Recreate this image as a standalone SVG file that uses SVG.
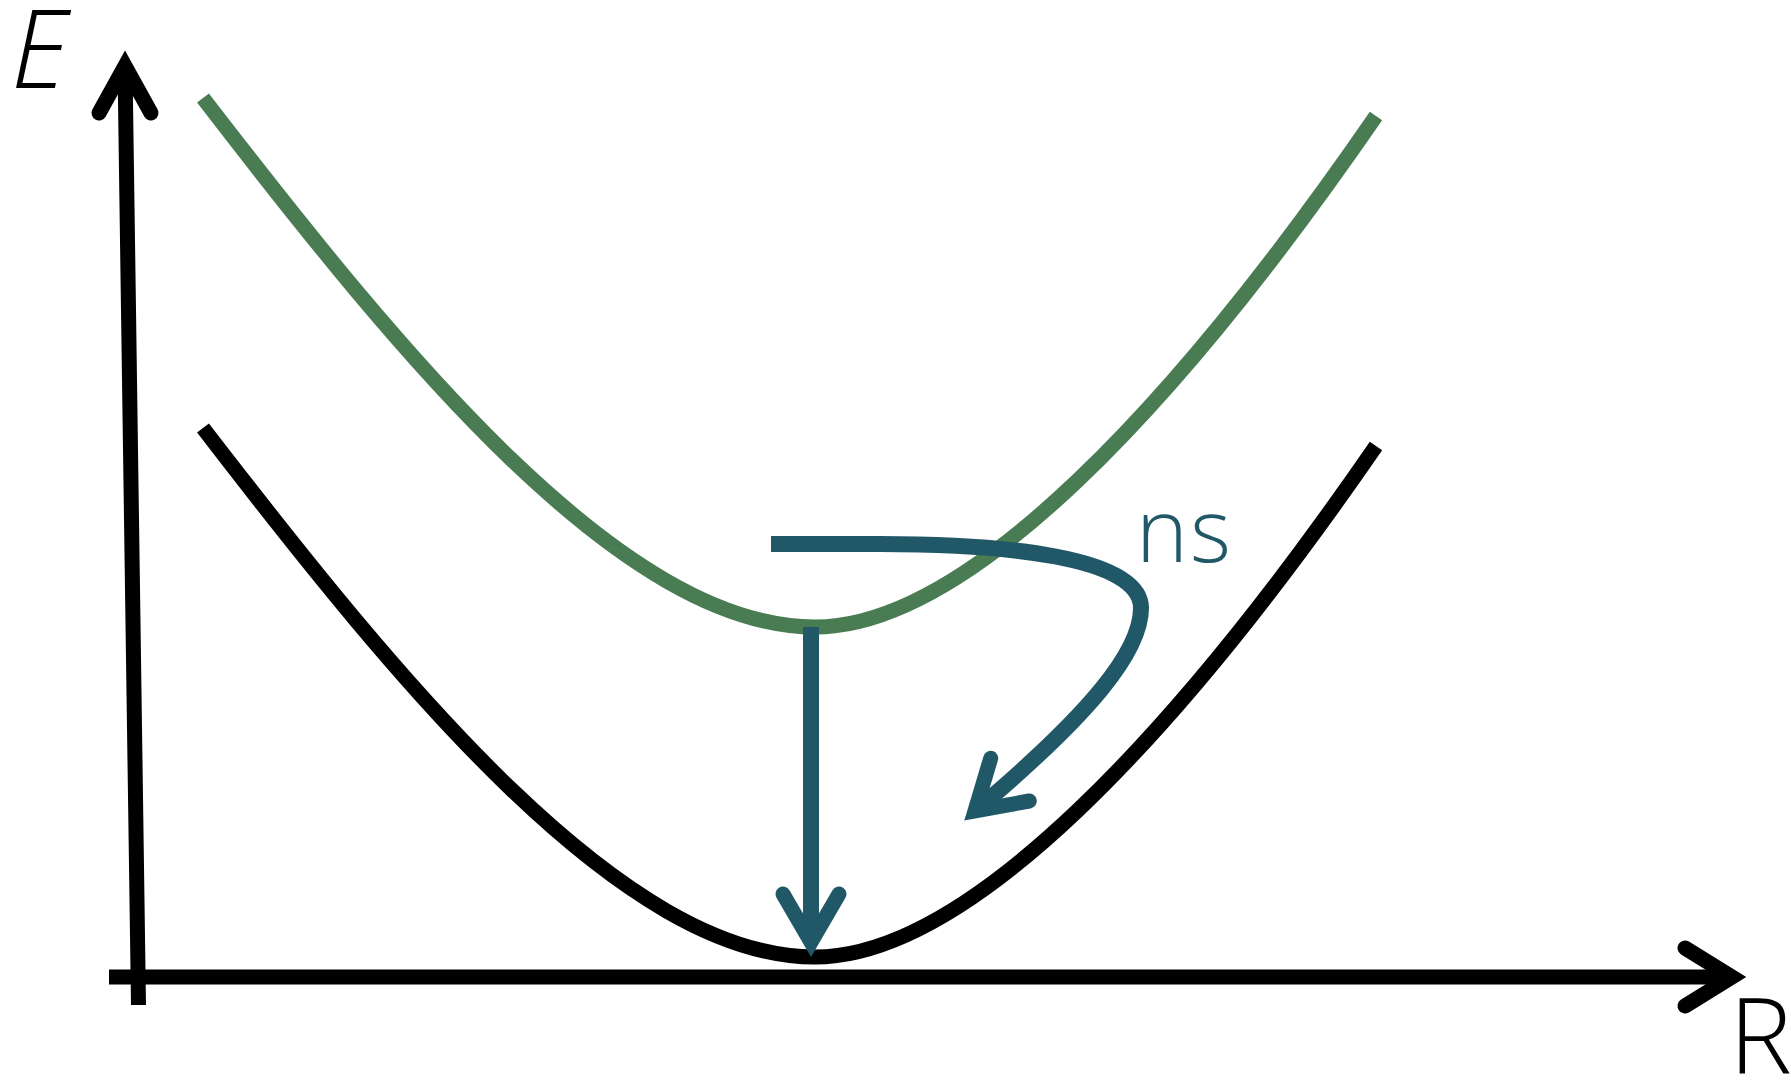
<svg xmlns="http://www.w3.org/2000/svg" width="1791" height="1081" viewBox="0 0 1791 1081">
  <style>
    .axis { fill: none; stroke: #000000; stroke-width: 15; stroke-linecap: butt; }
    .head { fill: none; stroke-width: 15; stroke-linecap: round; stroke-linejoin: miter; stroke-miterlimit: 10; }
    .curve { fill: none; stroke-width: 15; stroke-linecap: butt; }
    .teal { fill: none; stroke: #215868; stroke-width: 16; stroke-linecap: butt; }
    .lbl { font-family: "Open Sans", "Liberation Sans", sans-serif; font-weight: 300; }
  </style>
  <rect width="1791" height="1081" fill="#ffffff"/>
  <g id="axes">
    <g id="y-axis">
      <path class="axis" d="M138.5,1005 L125,67"/>
      <path class="head" stroke="#000000" d="M99,113 L125,66 L151,113"/>
    </g>
    <g id="x-axis">
      <path class="axis" d="M109,977 L1732,977"/>
      <path class="head" stroke="#000000" d="M1685,948 L1732,977 L1685,1006"/>
    </g>
  </g>
  <g id="excited-state">
    <path class="curve" stroke="#4a7c53" d="M203,98 C403,358 623,627 815,627 C968,627 1176,406 1376,116"/>
  </g>
  <g id="ground-state">
    <path class="curve" stroke="#000000" d="M203,428 C403,688 623,957 815,957 C968,957 1176,736 1376,446"/>
  </g>
  <g id="connectors">
    <g id="vertical-transition">
      <path class="teal" d="M811,627 L811,941"/>
      <path class="head" stroke="#215868" stroke-width="16" d="M783,894 L811,942 L839,894"/>
    </g>
    <g id="ns-transition">
      <path class="teal" d="M771,544 L880,544 C1000,544 1141,556 1141,608 C1141,652 1090,714 975,811"/>
      <path class="head" stroke="#215868" stroke-width="16" d="M990.7,758.3 L975,811 L1029.3,801"/>
    </g>
  </g>
  <g id="labels">
    <text class="lbl" x="11" y="88" font-size="108" font-style="italic" fill="#000000">E</text>
    <text class="lbl" x="1729" y="1074" font-size="106" fill="#000000">R</text>
    <text class="lbl" x="1136" y="562" font-size="88" letter-spacing="2" fill="#215868">ns</text>
  </g>
</svg>
